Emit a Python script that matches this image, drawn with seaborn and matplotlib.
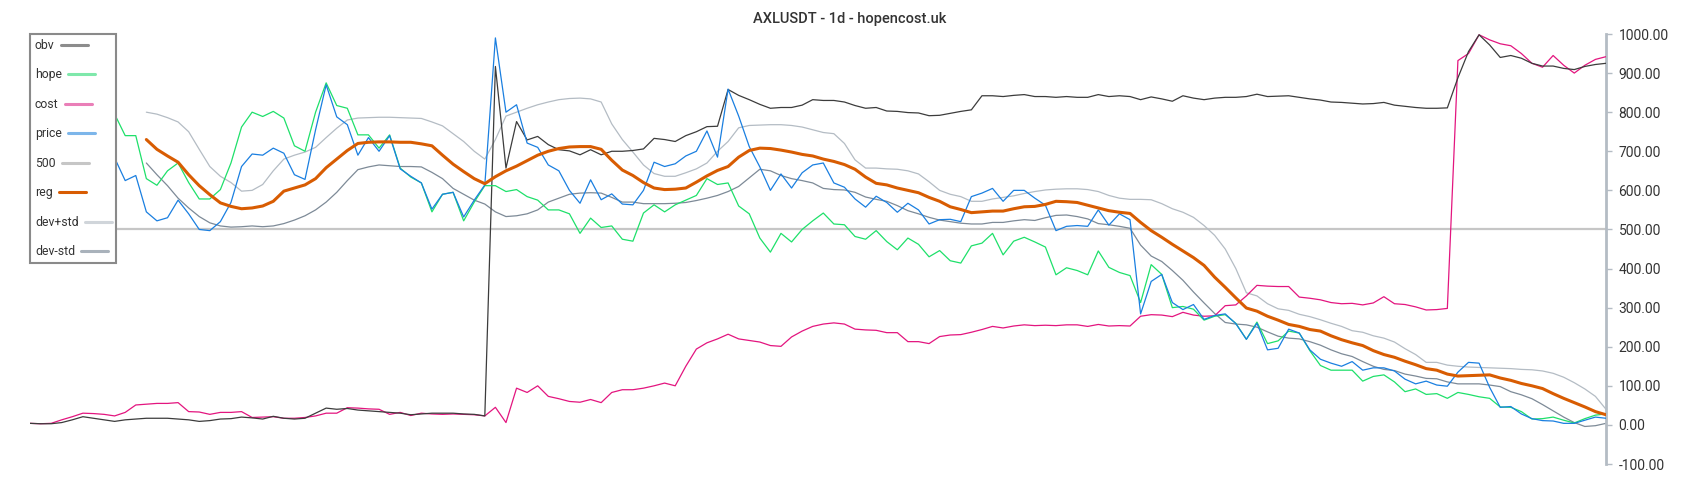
import numpy as np
import pandas as pd
import matplotlib
matplotlib.use("Agg")
import matplotlib.pyplot as plt
from matplotlib.lines import Line2D
from matplotlib.ticker import FuncFormatter
import seaborn as sns


# Values (one sample every ~2 days)
hope = [800, 805, 812, 790, 800, 815, 808, 812, 795, 740, 740, 630, 613, 650, 670, 620, 578, 578, 602,
        670, 762, 800, 789, 802, 785, 714, 700, 800, 875, 817, 810, 742, 742, 708, 742, 657, 634, 619,
        545, 590, 595, 522, 570, 612, 612, 597, 602, 584, 575, 550, 550, 540, 490, 529, 505, 509, 475,
        470, 542, 563, 545, 563, 575, 587, 630, 615, 619, 560, 540, 478, 442, 490, 468, 500, 522, 542,
        514, 512, 482, 475, 497, 469, 448, 478, 462, 430, 446, 420, 414, 458, 465, 490, 435, 470, 480,
        468, 455, 384, 402, 395, 384, 445, 403, 390, 382, 313, 410, 385, 300, 303, 296, 268, 278, 282,
        260, 219, 263, 208, 215, 240, 235, 190, 152, 140, 140, 140, 112, 124, 128, 110, 85, 92, 78,
        80, 68, 83, 78, 72, 68, 46, 45, 34, 15, 16, 20, 12, 5, 16, 25, 28]

price = [690, 700, 680, 695, 705, 690, 685, 690, 683, 625, 638, 545, 522, 530, 575, 540, 500, 497, 520,
         569, 661, 693, 690, 708, 695, 640, 628, 755, 870, 788, 768, 690, 735, 700, 740, 655, 636, 619,
         552, 590, 595, 532, 575, 614, 990, 800, 819, 721, 710, 665, 650, 600, 567, 627, 576, 591, 565,
         563, 600, 672, 661, 668, 688, 700, 752, 685, 859, 790, 712, 660, 600, 642, 606, 645, 665, 670,
         619, 608, 578, 557, 585, 569, 544, 567, 550, 514, 525, 526, 520, 584, 593, 605, 572, 600, 600,
         580, 562, 497, 508, 510, 508, 550, 511, 540, 525, 284, 367, 385, 313, 295, 308, 270, 280, 284,
         259, 219, 260, 192, 196, 245, 235, 192, 168, 158, 150, 162, 140, 146, 146, 138, 117, 105, 112,
         102, 99, 135, 160, 158, 96, 45, 47, 28, 16, 11, 10, 4, 4, 12, 20, 17]

obv = [4, 3, 3, 6, 13, 21, 17, 13, 9, 13, 15, 17, 17, 17, 15, 13, 9, 11, 15,
       16, 20, 18, 15, 22, 17, 15, 17, 30, 43, 40, 42, 38, 36, 34, 32, 30, 26, 28,
       30, 30, 30, 28, 27, 23, 917, 657, 776, 729, 738, 717, 704, 701, 691, 704, 691, 700, 700,
       702, 706, 733, 730, 725, 740, 750, 763, 764, 858, 843, 832, 820, 810, 812, 812, 818, 832, 830,
       830, 826, 817, 810, 812, 803, 802, 799, 798, 791, 792, 797, 802, 806, 842, 842, 840, 843, 845,
       840, 840, 838, 840, 838, 838, 845, 840, 842, 840, 832, 839, 834, 828, 842, 836, 832, 836, 838,
       838, 840, 846, 840, 841, 842, 838, 834, 831, 826, 825, 823, 821, 822, 825, 818, 815, 812, 810,
       810, 811, 888, 955, 998, 972, 940, 945, 938, 925, 918, 918, 912, 909, 917, 922, 925]

cost = [4, 3, 4, 13, 21, 30, 29, 27, 23, 32, 51, 53, 55, 55, 57, 34, 33, 27, 32,
        32, 34, 19, 20, 21, 17, 17, 19, 23, 30, 30, 44, 43, 41, 40, 27, 32, 24, 30,
        28, 27, 28, 27, 26, 23, 45, 6, 94, 83, 100, 73, 67, 60, 58, 65, 57, 83, 90,
        90, 94, 100, 107, 100, 150, 194, 210, 220, 232, 220, 216, 212, 203, 201, 225, 240, 252, 258,
        261, 258, 245, 243, 242, 236, 236, 213, 213, 208, 226, 230, 231, 237, 244, 252, 248, 253, 256,
        254, 255, 254, 256, 256, 252, 257, 253, 254, 253, 278, 282, 281, 277, 288, 281, 278, 279, 305,
        307, 330, 357, 355, 354, 354, 327, 324, 320, 313, 310, 311, 307, 312, 328, 310, 308, 302, 294,
        295, 298, 932, 950, 998, 985, 975, 970, 950, 925, 915, 945, 920, 900, 920, 935, 942]

nan = np.nan
reg = [nan] * 11 + [
    730, 705, 688, 672, 640, 612, 589, 568,
    559, 553, 555, 560, 572, 598, 606, 614, 630, 658, 680, 702, 720, 723, 724, 724, 723, 723, 719,
    714, 690, 667, 648, 630, 617, 635, 650, 662, 676, 690, 700, 707, 711, 712, 712, 705, 677, 652,
    638, 620, 606, 602, 603, 606, 621, 637, 651, 661, 685, 702, 708, 707, 703, 698, 692, 688, 680,
    674, 666, 654, 634, 618, 614, 606, 600, 594, 582, 572, 558, 551, 543, 545, 547, 547, 553, 558,
    559, 564, 572, 571, 569, 562, 555, 548, 544, 541, 518, 497, 480, 462, 445, 428, 408, 378, 352,
    325, 299, 291, 278, 268, 257, 252, 244, 240, 228, 218, 210, 203, 190, 180, 173, 163, 154, 144,
    140, 130, 125, 126, 127, 128, 120, 114, 106, 100, 93, 80, 68, 57, 46, 34, 26]

dev_plus = [nan] * 11 + [
    800, 795, 786, 775, 750, 705, 661, 636,
    620, 598, 600, 615, 650, 680, 690, 698, 710, 735, 759, 780, 785, 786, 787, 787, 786, 785, 784,
    775, 765, 745, 725, 700, 680, 730, 790, 800, 810, 819, 826, 832, 835, 836, 834, 826, 770, 730,
    698, 665, 643, 636, 636, 645, 655, 670, 700, 725, 760, 766, 767, 768, 768, 766, 762, 755, 748,
    745, 720, 678, 657, 657, 655, 654, 650, 642, 622, 600, 590, 584, 572, 572, 578, 582, 586, 592,
    597, 601, 603, 604, 604, 602, 597, 587, 580, 577, 577, 576, 566, 553, 544, 531, 510, 485, 450,
    400, 338, 330, 310, 297, 293, 283, 277, 269, 260, 252, 241, 237, 228, 222, 212, 195, 180, 160,
    160, 153, 150, 148, 147, 146, 145, 144, 142, 141, 138, 132, 122, 108, 92, 73, 40]

dev_minus = [nan] * 11 + [
    670, 640, 612, 580, 555, 533, 517, 509,
    506, 507, 509, 507, 509, 515, 524, 535, 550, 570, 595, 625, 653, 660, 665, 663, 661, 661, 660,
    646, 630, 605, 590, 575, 565, 545, 533, 535, 540, 550, 570, 580, 590, 593, 594, 593, 582, 570,
    570, 566, 566, 566, 567, 569, 574, 580, 587, 597, 610, 632, 654, 650, 638, 630, 625, 619, 605,
    602, 601, 595, 583, 577, 572, 561, 548, 540, 531, 524, 520, 516, 514, 514, 518, 518, 522, 525,
    523, 530, 536, 537, 533, 527, 515, 512, 508, 503, 460, 432, 418, 395, 370, 340, 312, 285, 262,
    258, 256, 250, 238, 227, 222, 220, 213, 204, 192, 182, 175, 162, 150, 142, 139, 130, 125, 119,
    118, 110, 105, 105, 105, 102, 98, 85, 77, 67, 52, 36, 20, 6, -4, -2, 4]

level = 500
title = "AXLUSDT - 1d - hopencost.uk"

df = pd.DataFrame({"obv": obv, "hope": hope, "cost": cost, "price": price,
                   "reg": reg, "dev+std": dev_plus, "dev-std": dev_minus})
df["day"] = np.arange(len(df))

colors = {"obv": "#3c3c3c", "hope": "#1ee06a", "cost": "#e3157f", "price": "#1a7fe0",
          "500": "#c6c6c6", "reg": "#d85c02", "dev+std": "#b4bcc4", "dev-std": "#7d8a97"}
legend_colors = {"obv": "#8c8c8c", "hope": "#7fe8ab", "cost": "#ea7fb8", "price": "#7db6ea",
                 "500": "#c6c6c6", "reg": "#d85c02", "dev+std": "#d0d5da", "dev-std": "#a9b2bb"}

sns.set_style("white")
plt.rcParams["font.family"] = ["Roboto", "DejaVu Sans"]

fig = plt.figure(figsize=(17, 5), dpi=100)
ax = fig.add_axes([30 / 1700, 36 / 500, 1576 / 1700, 430 / 500])

ax.axhline(level, color=colors["500"], lw=1.6, zorder=1)
for name, lw, z in [("dev+std", 0.9, 2), ("dev-std", 0.9, 2), ("cost", 0.9, 3),
                    ("obv", 0.9, 4), ("hope", 0.9, 5), ("price", 0.9, 6), ("reg", 2.2, 7)]:
    sns.lineplot(data=df, x="day", y=name, color=colors[name], lw=lw, zorder=z, ax=ax)

ax.set_xlim(0, len(df) - 1)
ax.set_ylim(-100, 1000)
ax.set_xlabel("")
ax.set_ylabel("")
ax.set_xticks([])
ax.set_yticks(np.arange(-100, 1001, 100))
ax.yaxis.tick_right()
ax.yaxis.set_major_formatter(FuncFormatter(lambda v, p: f"{v:.2f}"))
ax.tick_params(axis="y", right=True, length=4, width=1, color="#b4bcc4",
               pad=5, labelsize=10, labelcolor="#333333")
for side in ["left", "top", "bottom"]:
    ax.spines[side].set_visible(False)
ax.spines["right"].set_color("#b4bcc4")
ax.spines["right"].set_linewidth(2)

names = ["obv", "hope", "cost", "price", "500", "reg", "dev+std", "dev-std"]
handles = [Line2D([], [], color=legend_colors[n], lw=2.2) for n in names]
leg = ax.legend(handles, names, loc="upper left", bbox_to_anchor=(0, 1), borderaxespad=0,
                markerfirst=False, fontsize=8.8, labelspacing=1.35, handlelength=2.2,
                handletextpad=0.5, borderpad=0.4, frameon=True, fancybox=False,
                framealpha=1, edgecolor="#8a8a8a", labelcolor="#333333")
leg.get_frame().set_linewidth(1.5)
leg.set_zorder(10)
# labels flush left, like the reference
for col in leg._legend_handle_box.get_children():
    col.align = "left"

fig.suptitle(title, x=0.5, y=1 - 19.5 / 500, va="center", fontsize=10.5,
             color="#333333", fontweight="medium")

fig.savefig("out.png", dpi=100)
